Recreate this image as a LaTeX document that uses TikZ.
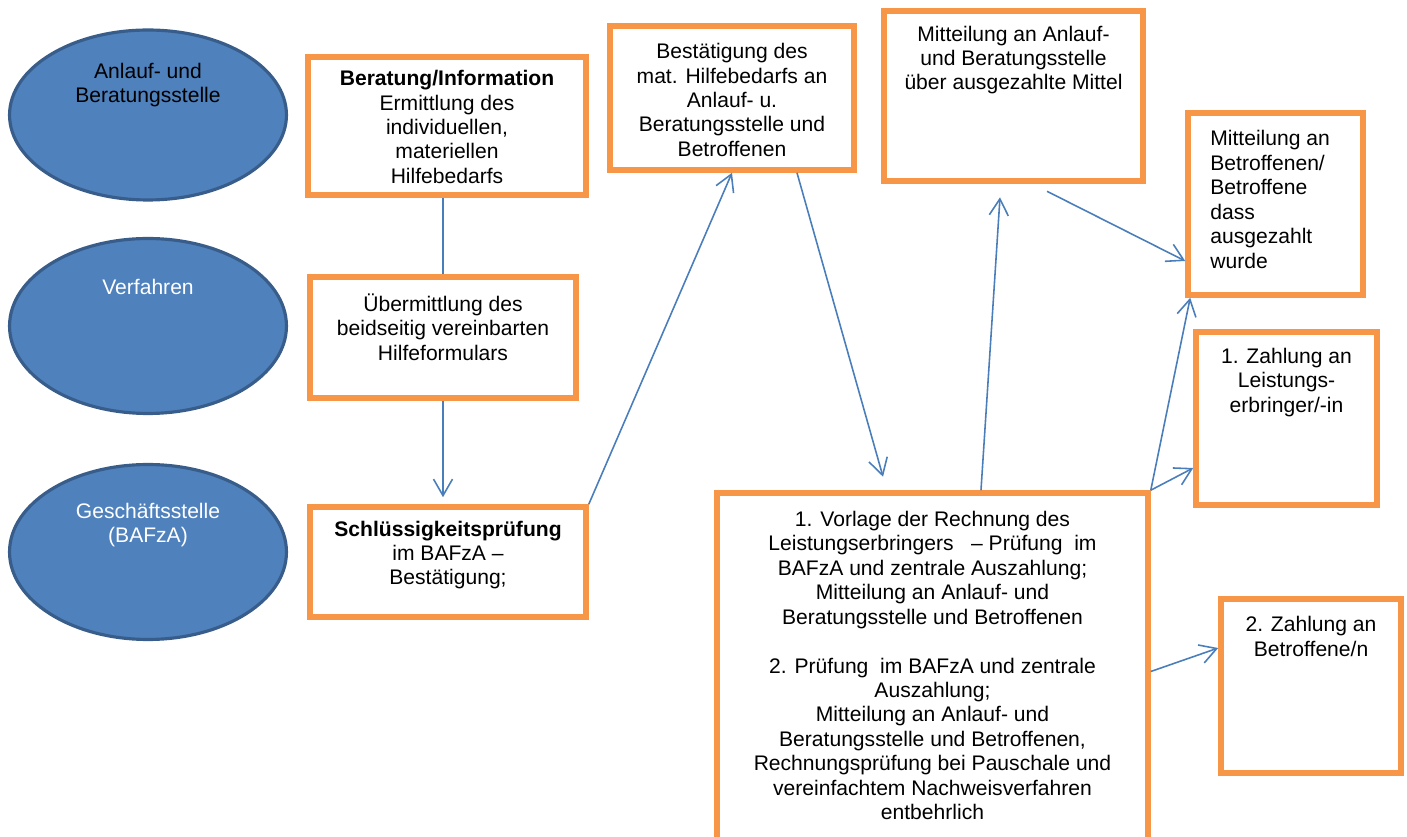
\documentclass[tikz,border=0pt]{standalone}
\usepackage{fontspec}
\setmainfont{Liberation Sans}
\usetikzlibrary{shapes.geometric,arrows.meta}
\definecolor{stellefill}{HTML}{4F81BD}
\definecolor{stellerand}{HTML}{385D8A}
\definecolor{kastenrand}{HTML}{F79646}
\definecolor{pfeilblau}{HTML}{4A7EBB}
\tikzset{
	stelle/.style = {shape=ellipse, draw=stellerand, fill=stellefill,
		line width=1.8pt, minimum width=5.54cm},
	kasten/.style = {shape=rectangle, draw=kastenrand, line width=3.2pt},
	txt/.style    = {align=center, inner sep=0pt,
		font=\fontsize{12}{13.9}\selectfont},
	linie/.style  = {draw=pfeilblau, line width=0.9pt},
	pfeil/.style  = {linie, -{Straight Barb[length=3.3mm,width=3.8mm]}}
}

\begin{document}
\begin{tikzpicture}
		[
		x = 0.02cm,
		y = -0.02cm
		]
		\useasboundingbox (0,0) rectangle (1407,837);
		% the three ellipses on the left
		\node [stelle, minimum height=3.4cm] (anlauf) at (148,115) {};
		\node [txt] (anlauftext) at (148,85) {Anlauf- und\\Beratungsstelle};
		\node [stelle, minimum height=3.5cm] (verfahren) at (148,326) {};
		\node [txt, text=white] (verfahrentext) at (148,287) {Verfahren};
		\node [stelle, minimum height=3.5cm] (geschaeft) at (148,552) {};
		\node [txt, text=white] (geschaefttext) at (148,525) {Geschäftsstelle\\(BAFzA)};
		
		% the boxes
		\node [kasten, minimum width=5.56cm, minimum height=2.76cm] (beratung) at (447,126) {};
		\node [txt] (beratungtext) at (447,127) {\textbf{Beratung/Information}\\Ermittlung des\\individuellen,\\materiellen\\Hilfebedarfs};
		\node [kasten, minimum width=5.32cm, minimum height=2.42cm] (uebermittlung) at (443,337.5) {};
		\node [txt] (uebermittlungtext) at (443,327) {Übermittlung des\\beidseitig vereinbarten\\Hilfeformulars};
		\node [kasten, minimum width=5.52cm, minimum height=2.2cm] (schluessig) at (448,562) {};
		\node [txt] (schluessigtext) at (448,555) {\textbf{Schlüssigkeitsprüfung}\\im BAFzA –\\Bestätigung;};
		\node [kasten, minimum width=4.88cm, minimum height=2.88cm] (bestaetigung) at (732,98) {};
		\node [txt] (bestaetigungtext) at (732,100) {Bestätigung des\\mat. Hilfebedarfs an\\Anlauf- u.\\Beratungsstelle und\\Betroffenen};
		\node [kasten, minimum width=8.62cm, minimum height=7.14cm] (pruefung) at (932.5,671.5) {};
		\node [txt] (pruefungtext) at (932.5,665.5) {1. Vorlage der Rechnung des\\Leistungserbringers\ \ \ – Prüfung\ \ im\\BAFzA und zentrale Auszahlung;\\Mitteilung an Anlauf- und\\Beratungsstelle und Betroffenen\\[13.9pt]2. Prüfung\ \ im BAFzA und zentrale\\Auszahlung;\\Mitteilung an Anlauf- und\\Beratungsstelle und Betroffenen,\\Rechnungsprüfung bei Pauschale und\\vereinfachtem Nachweisverfahren\\entbehrlich};
		\node [kasten, minimum width=5.18cm, minimum height=3.4cm] (mitteilungstelle) at (1013.5,96) {};
		\node [txt] (mitteilungstelletext) at (1013.5,60) {Mitteilung an Anlauf-\\und Beratungsstelle\\über ausgezahlte Mittel};
		\node [kasten, minimum width=3.5cm, minimum height=3.64cm] (mitteilungbetr) at (1275.5,204) {};
		\node [txt, align=left, anchor=west] (mitteilungbetrtext) at (1210,199.5) {Mitteilung an\\Betroffenen/\\Betroffene\\dass\\ausgezahlt\\wurde};
		\node [kasten, minimum width=3.62cm, minimum height=3.46cm] (zahlung1) at (1286.5,418.5) {};
		\node [txt] (zahlung1text) at (1286.5,382.5) {1. Zahlung an\\Leistungs-\\erbringer/-in};
		\node [kasten, minimum width=3.6cm, minimum height=3.48cm] (zahlung2) at (1311,686) {};
		\node [txt] (zahlung2text) at (1311,636.5) {2. Zahlung an\\Betroffene/n};
		
		% connectors
		\draw [linie] (beratung.south -| uebermittlung.north) -- (uebermittlung.north);
		\draw [pfeil, shorten >=0.14cm] (uebermittlung.south) -- (schluessig.north -| uebermittlung.south);
		\draw [pfeil] (schluessig.north east) -- (bestaetigung.south);
		\draw [pfeil] ([xshift=1.3cm]bestaetigung.south) -- ([xshift=-0.99cm,yshift=0.27cm]pruefung.north);
		\draw [pfeil] ([xshift=0.97cm]pruefung.north) -- ([xshift=-0.27cm,yshift=-0.27cm]mitteilungstelle.south);
		\draw [pfeil] ([xshift=0.67cm,yshift=-0.15cm]mitteilungstelle.south) -- ([yshift=-1.14cm]mitteilungbetr.west);
		\draw [pfeil] (pruefung.north east) -- ([xshift=0.1cm]mitteilungbetr.south west);
		\draw [pfeil] (pruefung.north east) -- ([yshift=-0.99cm]zahlung1.west);
		\draw [pfeil] (pruefung.east) -- ([yshift=0.76cm]zahlung2.west);
	\end{tikzpicture}
\end{document}
